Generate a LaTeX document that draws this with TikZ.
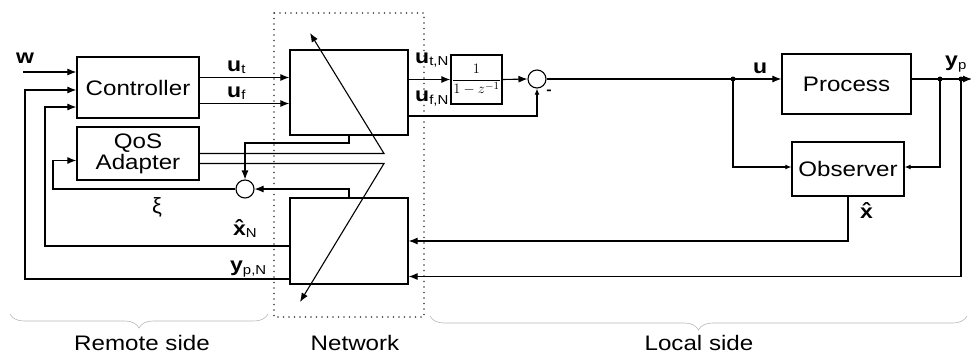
\documentclass[tikz,border=0pt]{standalone}
\usepackage{fontspec}
\setmainfont{Liberation Sans}[FakeStretch=1.15]
\newfontfamily\plainsans{Liberation Sans}
\usetikzlibrary{arrows.meta,decorations.pathreplacing,calc}
\newcommand\lbl[2]{{\fontsize{20}{22}\selectfont\bfseries #1}\raisebox{-0.5ex}{\fontsize{13}{14}\selectfont #2}}
\begin{document}
\begin{tikzpicture}[x=1pt,y=-1pt,
 box/.style={draw,line width=1.2pt,inner sep=0pt,font=\fontsize{21}{24}\selectfont},
 sumc/.style={draw,circle,line width=1.1pt,minimum size=18pt,inner sep=0pt},
 arr/.style={line width=1.1pt,-{Latex[length=9pt,width=7pt]}},
 sarr/.style={line width=1.1pt,-{Latex[length=6pt,width=5pt]}},
 ln/.style={line width=1.1pt},
 jdot/.style={circle,fill,inner sep=0pt,minimum size=5pt},
 lab/.style={inner sep=0pt,anchor=base west},
 brc/.style={decorate,decoration={brace,amplitude=14pt,mirror},draw=gray!55,line width=0.6pt},
 side/.style={font=\fontsize{21}{24}\selectfont,anchor=base,inner sep=0pt}]
\useasboundingbox (0,0) rectangle (971,354);

% network region
\draw[line width=1.6pt,line cap=round,dash pattern=on 0pt off 5.5pt,black!75] (274,13) rectangle (424,317);

% blocks
\node[box,minimum width=122pt,minimum height=61pt] (ctrl) at (138,87.5) {Controller};
\node[box,minimum width=122pt,minimum height=53pt,align=center] (qos) at (138,153.5) {QoS\\[-3pt]Adapter};
\node[box,minimum width=118pt,minimum height=85pt] (nb1) at (349,92.5) {};
\node[box,minimum width=118pt,minimum height=86pt] (nb2) at (349,241) {};
\node[box,minimum width=51pt,minimum height=49pt,font=\fontsize{15}{17}\selectfont] (blk) at (476.5,79.5) {$\displaystyle\frac{1}{1-z^{-1}}$};
\node[sumc] (s1) at (245,189) {};
\node[sumc] (s2) at (537,79) {};
\node[box,minimum width=129pt,minimum height=60pt] (proc) at (846.5,84) {Process};
\node[box,minimum width=112pt,minimum height=54pt] (obs) at (848,169) {Observer};

% coordinates
\coordinate (win) at (23,72);
\coordinate (fbA) at (25,90);
\coordinate (fbB) at (45,107);
\coordinate (k1) at (349,143);
\coordinate (k2) at (53,189);
\coordinate (q1) at (384,153.5);
\coordinate (q2) at (384,163.5);
\coordinate (tip1) at (310,33);
\coordinate (tip2) at (300,302);
\coordinate (yout) at (972,79);
\node[jdot] (j1) at (733,79) {};
\node[jdot] (j2) at (940,79) {};
\node[jdot] (j3) at (961,79) {};

% remote side
\draw[arr] (win) -- (win -| ctrl.west);
\draw[arr] ([yshift=-38pt]nb2.west) -| (fbA) -- (fbA -| ctrl.west);
\draw[arr] ([yshift=-5pt]nb2.west) -| (fbB) -- (fbB -| ctrl.west);
\draw[arr] ([yshift=10pt]ctrl.east) -- ([yshift=10pt]ctrl.east -| nb1.west);
\draw[arr] ([yshift=-16pt]ctrl.east) -- ([yshift=-16pt]ctrl.east -| nb1.west);
\draw[arr] (nb1.south) -- (k1) -| (s1.north);
\draw[arr] (nb2.north) |- (s1.east);
\draw[arr] (s1.west) -- (k2) |- ([yshift=-7pt]qos.west);
\draw[arr] (qos.east) -- (q1) -- (tip1);
\draw[arr] ([yshift=-10pt]qos.east) -- (q2) -- (tip2);

% local side
\draw[arr] (nb1.east |- blk.west) -- (blk.west);
\draw[arr] (blk.east) -- (s2.west);
\draw[sarr] ([yshift=-23.5pt]nb1.east) -| (s2.south);
\draw[arr] (s2.east) -- (s2.east -| proc.west);
\draw[sarr] (j1.center) |- ([yshift=2pt]obs.west);
\draw[arr] (proc.east |- s2) -- (yout);
\draw[sarr] (j2.center) |- ([yshift=2pt]obs.east);
\draw[arr] (obs.south) |- (nb2.east);
\draw[arr] (j3.center) |- ([yshift=-35.5pt]nb2.east);

% labels
\node[inner sep=0pt,font=\fontsize{20}{22}\selectfont\bfseries] (lw) at (25,58) {w};
\node[lab] (lut) at (227,71) {\lbl{u}{t}};
\node[lab] (luf) at (227,97) {\lbl{u}{f}};
\node[lab] (lutn) at (415,63) {\lbl{u}{t,N}};
\node[lab] (lufn) at (415,101.5) {\lbl{u}{f,N}};
\node[lab] (lu) at (753,73) {\lbl{u}{}};
\node[lab] (lyp) at (945,66.5) {\lbl{y}{p}};
\node[lab] (lxn) at (233,235) {\lbl{\^{x}}{N}};
\node[lab] (lypn) at (230,271.5) {\lbl{y}{p,N}};
\node[lab] (lx) at (860,218) {\lbl{\^{x}}{}};
\node[inner sep=0pt,font=\fontsize{22}{24}\plainsans] (lxi) at (157,207) {ξ};
\node[inner sep=0pt,font=\fontsize{14}{14}\selectfont\bfseries] (lmin) at (549,92) {-};

% braces and side captions
\draw[brc] (10,314) -- (268,314);
\draw[brc] (430,316) -- (967,316);
\node[side] (tr) at (142,350) {Remote side};
\node[side] (tn) at (355,350) {Network};
\node[side] (tl) at (699,350) {Local side};
\end{tikzpicture}
\end{document}
